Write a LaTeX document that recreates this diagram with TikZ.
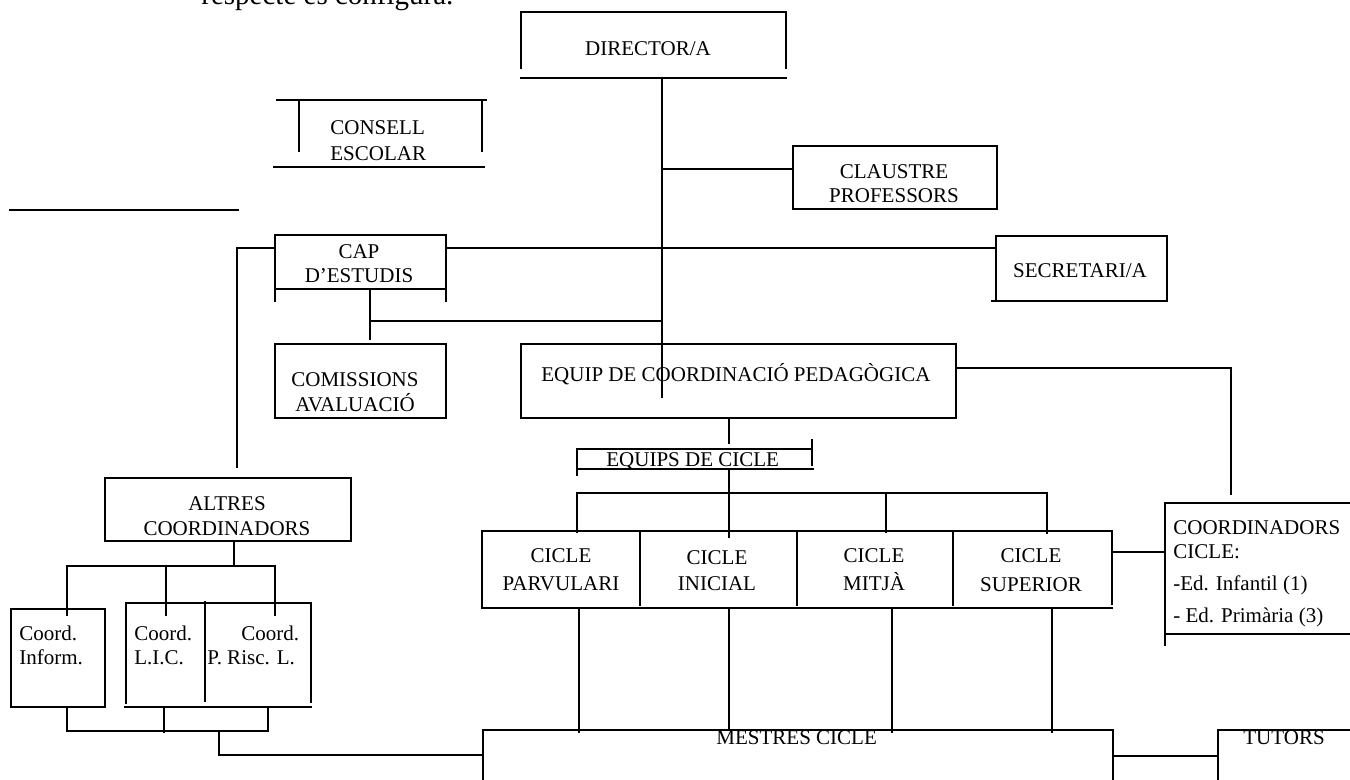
\documentclass[tikz,border=0pt]{standalone}
\usepackage{fontspec}
\setmainfont{Liberation Serif}
\newcommand\diafs{\fontsize{10.5}{12}\selectfont}
\newcommand\introfs{\fontsize{14.5}{16}\selectfont}
\begin{document}
\begin{tikzpicture}[x=0.5pt,y=-0.5pt,
  ln/.style={line width=0.6pt,line cap=rect},
  lbl/.style={anchor=base,inner sep=0pt,font=\diafs},
  lbll/.style={anchor=base west,inner sep=0pt,font=\diafs}]
\useasboundingbox (0,0) rectangle (1350,780);
\clip (0,0) rectangle (1350,780);

% ---------- texts ----------
\node[anchor=base west,inner sep=0pt,font=\introfs] (intro) at (201,5) {respecte es configura.};
\node[lbl] (dir) at (648,56) {DIRECTOR/A};
\node[lbll] (consA) at (330,135) {CONSELL};
\node[lbll] (consB) at (330,161) {ESCOLAR};
\node[lbl] (clauA) at (894,179) {CLAUSTRE};
\node[lbl] (clauB) at (894,203) {PROFESSORS};
\node[lbl] (secr) at (1080,278) {SECRETARI/A};
\node[lbl] (capA) at (359,259) {CAP};
\node[lbl] (capB) at (359,283) {D’ESTUDIS};
\node[lbl] (comA) at (355,387) {COMISSIONS};
\node[lbl] (comB) at (355,412) {AVALUACIÓ};
\node[lbll] (ecp) at (541,382) {EQUIP DE COORDINACIÓ PEDAGÒGICA};
\node[lbll] (eqc) at (606,467) {EQUIPS DE CICLE};
\node[lbl] (parA) at (561,562) {CICLE};
\node[lbl] (parB) at (561,590) {PARVULARI};
\node[lbl] (iniA) at (717,565) {CICLE};
\node[lbl] (iniB) at (717,590) {INICIAL};
\node[lbl] (mitA) at (874,562) {CICLE};
\node[lbl] (mitB) at (874,590) {MITJÀ};
\node[lbl] (supA) at (1031,562) {CICLE};
\node[lbl] (supB) at (1031,591) {SUPERIOR};
\node[lbll] (ccA) at (1173,535) {COORDINADORS};
\node[lbll] (ccB) at (1173,559) {CICLE:};
\node[lbll] (ccC) at (1173,590) {-Ed. Infantil (1)};
\node[lbll] (ccD) at (1173,622) {- Ed. Primària (3)};
\node[lbll] (mest) at (716,744) {MESTRES CICLE};
\node[lbll] (tut) at (1243,744) {TUTORS};
\node[lbl] (altA) at (227,511) {ALTRES};
\node[lbl] (altB) at (227,536) {COORDINADORS};
\node[lbll] (infA) at (19,640) {Coord.};
\node[lbll] (infB) at (19,664) {Inform.};
\node[lbll] (licA) at (134,640) {Coord.};
\node[lbll] (licB) at (134,664) {L.I.C.};
\node[lbll] (risA) at (241,640) {Coord.};
\node[lbll] (risB) at (207,664) {P. Risc. L.};

% ---------- box outlines ----------
% director
\draw[ln] (521,12) -- (786,12) (521,12) -- (521,68) (786,12) -- (786,68) (521,78) -- (786,78);
% consell escolar
\draw[ln] (277,100) -- (486,100) (299,100) -- (299,151) (482,100) -- (482,151) (274,167) -- (484,167);
% loose line
\draw[ln] (10,210) -- (238,210);
% claustre
\draw[ln] (793,146) rectangle (997,209);
% cap d'estudis
\draw[ln] (275,235) -- (446,235) (275,235) -- (275,301) (446,235) -- (446,301) (275,289) -- (446,289);
% secretari
\draw[ln] (996,236) -- (1167,236) (996,236) -- (996,301) (1167,236) -- (1167,301) (992,301) -- (1167,301);
% comissions
\draw[ln] (275,344) rectangle (446,418);
% equip coordinacio
\draw[ln] (521,344) rectangle (956,418);
% equips de cicle
\draw[ln] (577,449) -- (812,449) (577,469) -- (813,469) (577,449) -- (577,475) (812,440) -- (812,465);
% cicles
\draw[ln] (482,531) -- (1112,531) (482,531) -- (482,606) (1112,531) -- (1112,604) (482,608) -- (1112,608)
  (640,533) -- (640,605) (797,533) -- (797,605) (953,533) -- (953,605);
% coordinadors cicle
\draw[ln] (1165,503) -- (1350,503) (1165,503) -- (1165,645) (1165,634) -- (1350,634);
% mestres cicle
\draw[ln] (483,730) -- (1113,730) (483,730) -- (483,780) (1113,730) -- (1113,780);
% tutors
\draw[ln] (1218,730) -- (1350,730) (1218,730) -- (1218,780);
% altres coordinadors
\draw[ln] (105,478) rectangle (351,541);
% coord inform
\draw[ln] (11,609) rectangle (105,707);
% coord lic / risc
\draw[ln] (126,603) -- (311,603) (126,603) -- (126,703) (205,602) -- (205,701) (311,603) -- (311,702) (125,707) -- (311,707);

% ---------- connector points ----------
\coordinate (dirS) at (662,78);
\coordinate (dirE) at (662,397);
\coordinate (clauJ) at (662,169);
\coordinate (clauW) at (793,169);
\coordinate (capE) at (446,248);
\coordinate (secW) at (996,248);
\coordinate (capW) at (275,248);
\coordinate (capL) at (237,248);
\coordinate (capLend) at (237,467);
\coordinate (capS) at (370,289);
\coordinate (comN) at (370,339);
\coordinate (capJ) at (370,321);
\coordinate (ecpJ) at (662,321);
\coordinate (ecpE) at (956,368);
\coordinate (ccR) at (1231,368);
\coordinate (ccN) at (1231,494);
\coordinate (ecpS) at (729,418);
\coordinate (eqcN) at (729,443);
\coordinate (eqcS) at (729,469);
\coordinate (iniN) at (729,537);
\coordinate (busL) at (577,493);
\coordinate (busR) at (1047,493);
\coordinate (parN) at (577,532);
\coordinate (mitT) at (886,493);
\coordinate (mitN) at (886,532);
\coordinate (supN) at (1047,533);
\coordinate (supE) at (1112,552);
\coordinate (ccW) at (1165,552);
\coordinate (parS) at (579,608);
\coordinate (parM) at (579,732);
\coordinate (iniS) at (729,608);
\coordinate (iniM) at (729,730);
\coordinate (mitS) at (892,608);
\coordinate (mitM) at (892,732);
\coordinate (supS) at (1052,608);
\coordinate (supM) at (1052,732);
\coordinate (mesE) at (1113,756);
\coordinate (tutW) at (1218,756);
\coordinate (altS) at (234,541);
\coordinate (altJ) at (234,566);
\coordinate (brL) at (67,566);
\coordinate (brM) at (166,566);
\coordinate (brR) at (275,566);
\coordinate (infN) at (67,615);
\coordinate (licN) at (166,615);
\coordinate (risN) at (275,615);
\coordinate (infS) at (67,707);
\coordinate (licS) at (164,707);
\coordinate (risS) at (268,707);
\coordinate (lowL) at (67,731);
\coordinate (lowM) at (164,732);
\coordinate (lowR) at (268,731);
\coordinate (lowJ) at (219,731);
\coordinate (lowC) at (219,755);
\coordinate (mesW) at (483,755);

% ---------- connectors ----------
\draw[ln] (dirS) -- (dirE);
\draw[ln] (clauJ) -- (clauW);
\draw[ln] (capE) -- (secW);
\draw[ln] (capW) -- (capL) -- (capLend);
\draw[ln] (capS) -- (comN);
\draw[ln] (capJ) -- (ecpJ);
\draw[ln] (ecpE) -- (ccR) -- (ccN);
\draw[ln] (ecpS) -- (eqcN);
\draw[ln] (eqcS) -- (iniN);
\draw[ln] (busL) -- (busR);
\draw[ln] (busL) -- (parN);
\draw[ln] (mitT) -- (mitN);
\draw[ln] (busR) -- (supN);
\draw[ln] (supE) -- (ccW);
\draw[ln] (parS) -- (parM);
\draw[ln] (iniS) -- (iniM);
\draw[ln] (mitS) -- (mitM);
\draw[ln] (supS) -- (supM);
\draw[ln] (mesE) -- (tutW);
\draw[ln] (altS) -- (altJ);
\draw[ln] (brL) -- (brR);
\draw[ln] (brL) -- (infN);
\draw[ln] (brM) -- (licN);
\draw[ln] (brR) -- (risN);
\draw[ln] (infS) -- (lowL);
\draw[ln] (licS) -- (lowM);
\draw[ln] (risS) -- (lowR);
\draw[ln] (lowL) -- (lowR);
\draw[ln] (lowJ) -- (lowC) -- (mesW);
\end{tikzpicture}
\end{document}
